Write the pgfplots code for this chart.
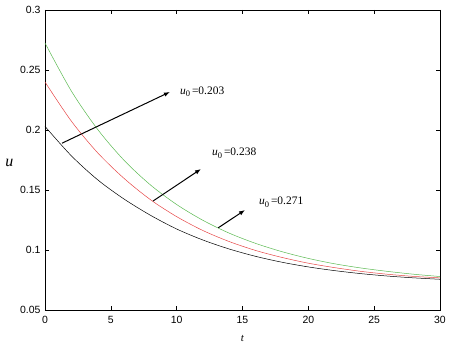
\documentclass[border=0pt]{standalone}
\usepackage{pgfplots}
\pgfplotsset{compat=1.18}
\usepackage{fontspec}
\setmainfont{Liberation Serif}
\newfontfamily\ticksfont{Liberation Sans}
\usetikzlibrary{arrows.meta}
\definecolor{mgreen}{RGB}{90,185,80}
\definecolor{mred}{RGB}{230,70,70}
\begin{document}
\begin{tikzpicture}
\useasboundingbox (-45bp,-43bp) rectangle (408bp,310bp);
\begin{axis}[
  scale only axis,
  width=395bp, height=300bp,
  xmin=0, xmax=30, ymin=0.05, ymax=0.3,
  xtick={0,5,...,30},
  ytick={0.05,0.1,0.15,0.2,0.25,0.3},
  yticklabels={0.05,0.1,0.15,0.2,0.25,0.3},
  tick align=inside,
  major tick length=4bp,
  tick style={black, line width=0.6pt},
  axis line style={black, line width=0.7pt},
  /pgf/number format/assume math mode=true,
  tick label style={font=\ticksfont\fontsize{10.5}{12}\selectfont},
  xticklabel style={yshift=-3bp},
  yticklabel style={xshift=-1bp},
  xlabel={\fontsize{11}{12}\selectfont\itshape t},
  xlabel style={yshift=-5bp},
  ylabel={\fontsize{16}{18}\selectfont\itshape u},
  ylabel style={rotate=-90, yshift=-3bp},
]
\addplot[black, line width=0.5pt, smooth] coordinates {
(0,0.203) (2,0.1785) (4,0.1585) (6,0.1425) (8,0.1290) (10,0.1175) (12,0.1083)
(14,0.1008) (16,0.0947) (18,0.0898) (20,0.0859) (22,0.0828) (24,0.0803)
(26,0.0783) (28,0.0768) (30,0.0756)};
\addplot[mred, line width=0.5pt, smooth] coordinates {
(0,0.240) (2,0.2074) (4,0.1810) (6,0.1597) (8,0.1420) (10,0.1278) (12,0.1162)
(14,0.1070) (16,0.0996) (18,0.0938) (20,0.0890) (22,0.0853) (24,0.0822)
(26,0.0798) (28,0.0780) (30,0.0768)};
\addplot[mgreen, line width=0.5pt, smooth] coordinates {
(0,0.2725) (2,0.2325) (4,0.2005) (6,0.1748) (8,0.1543) (10,0.1379) (12,0.1247)
(14,0.1140) (16,0.1055) (18,0.0986) (20,0.0930) (22,0.0885) (24,0.0850)
(26,0.0822) (28,0.0798) (30,0.0779)};
\draw[-{Latex[length=6bp,width=4.5bp]}, line width=1pt] (axis cs:1.29,0.189) -- (axis cs:9.49,0.2317);
\draw[-{Latex[length=6bp,width=4.5bp]}, line width=1pt] (axis cs:8.2,0.1408) -- (axis cs:11.85,0.1675);
\draw[-{Latex[length=6bp,width=4.5bp]}, line width=1pt] (axis cs:13.16,0.1185) -- (axis cs:15.19,0.1333);
\node[anchor=west, inner sep=0pt, font=\fontsize{11.5}{13}\selectfont] at (axis cs:10.25,0.2317) {\textit{u}\raisebox{-2.5bp}{\fontsize{8.5}{9}\selectfont 0}\,=0.203};
\node[anchor=west, inner sep=0pt, font=\fontsize{11.5}{13}\selectfont] at (axis cs:12.68,0.1808) {\textit{u}\raisebox{-2.5bp}{\fontsize{8.5}{9}\selectfont 0}\,=0.238};
\node[anchor=west, inner sep=0pt, font=\fontsize{11.5}{13}\selectfont] at (axis cs:16.25,0.1400) {\textit{u}\raisebox{-2.5bp}{\fontsize{8.5}{9}\selectfont 0}\,=0.271};
\end{axis}
\end{tikzpicture}
\end{document}
